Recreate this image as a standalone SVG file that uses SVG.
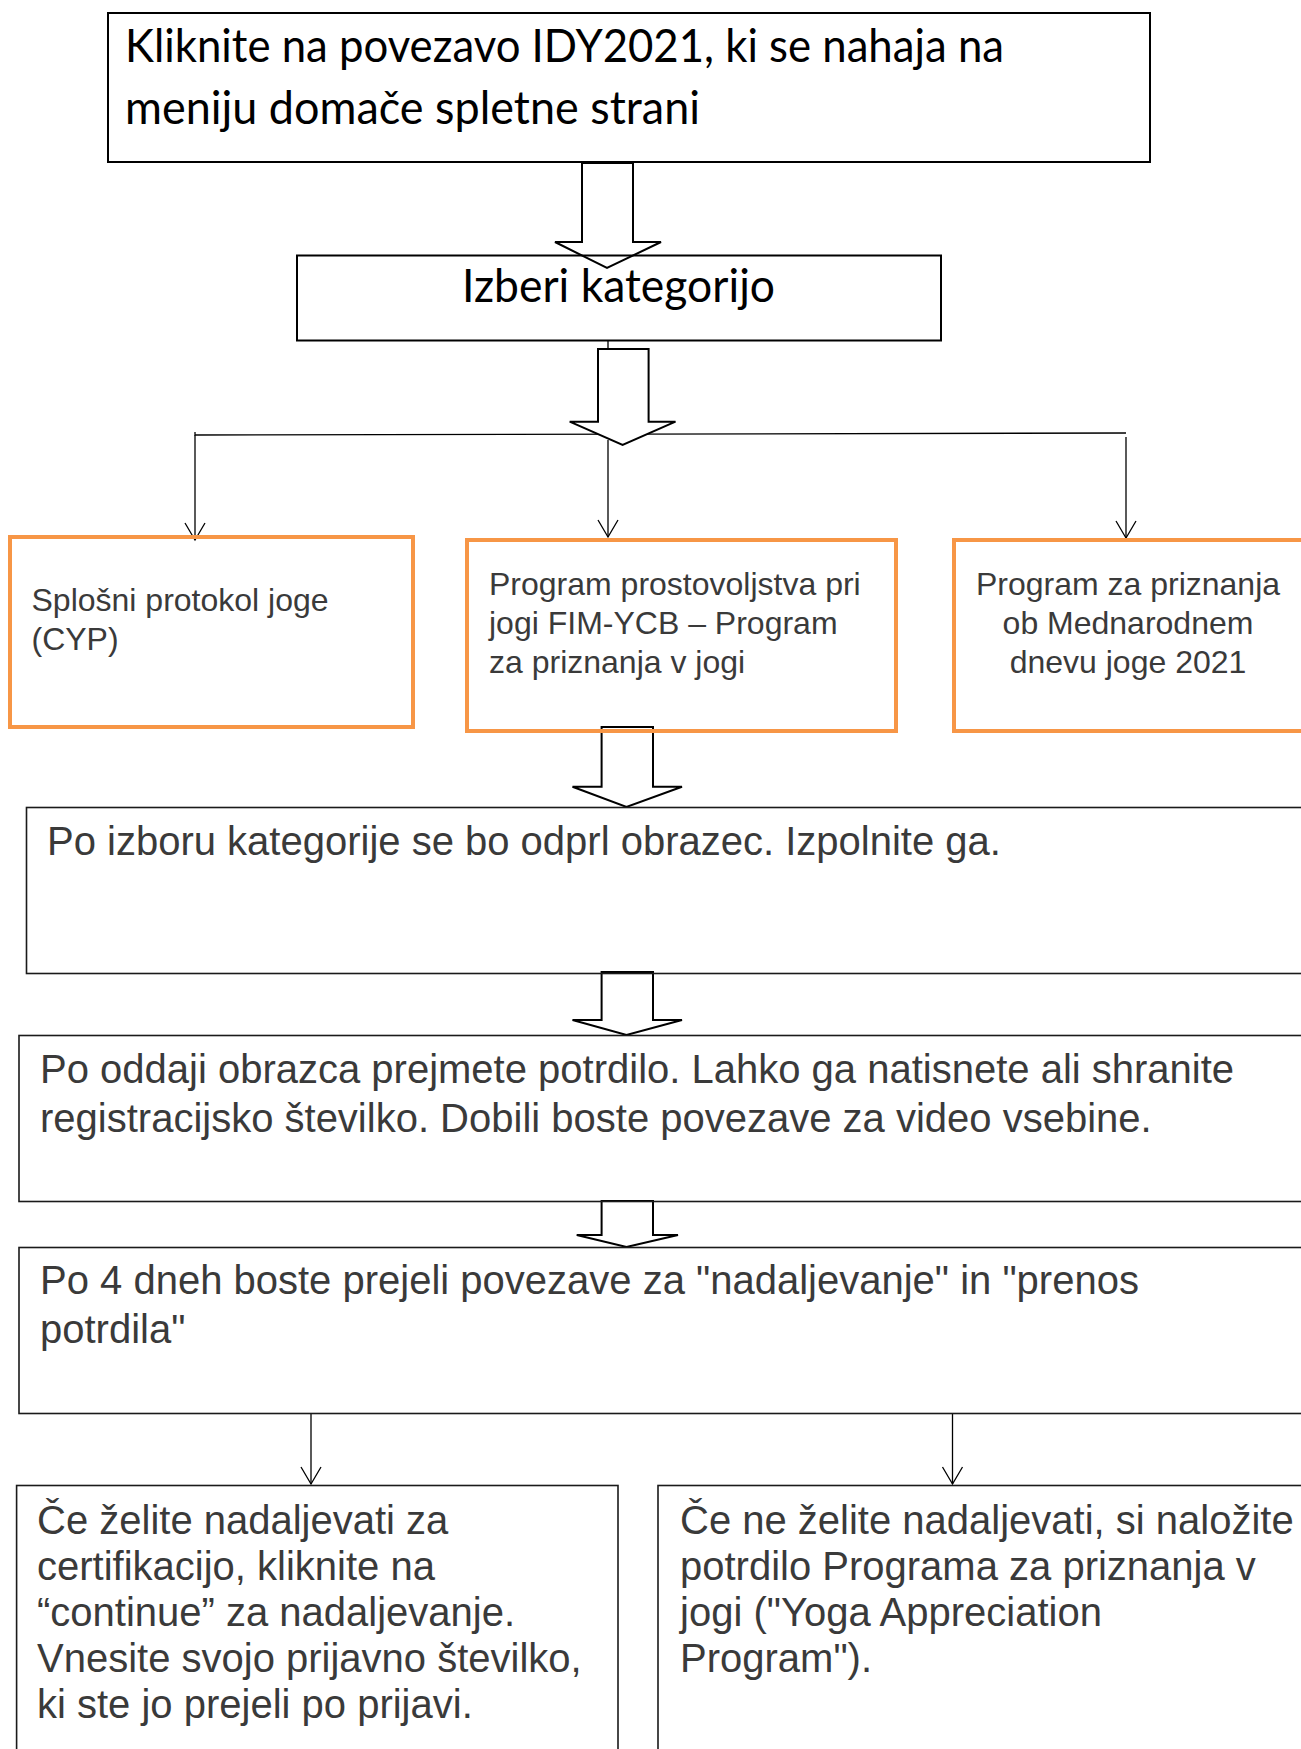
<svg xmlns="http://www.w3.org/2000/svg" width="1301" height="1749" viewBox="0 0 1301 1749">
<style>
.box{fill:none;stroke:#1a1a1a;stroke-width:1.6}
.box2{fill:none;stroke:#000;stroke-width:2}
.obox{fill:none;stroke:#F79646;stroke-width:4}
.blk{fill:#fff;stroke:#000;stroke-width:2;stroke-linejoin:miter}
.ln{fill:none;stroke:#000;stroke-width:1.3}
.cal{font-family:Lato,"Open Sans",sans-serif;fill:#000}
.ar{font-family:"Liberation Sans",Arial,sans-serif;fill:#3a3a3a}
</style>
<defs>
<marker id="v" markerUnits="userSpaceOnUse" markerWidth="22" markerHeight="24" refX="17" refY="10" orient="auto" overflow="visible">
<path d="M0,0 L17,10 L0,20" fill="none" stroke="#000" stroke-width="1.3"/>
</marker>
</defs>
<rect width="1301" height="1749" fill="#fff"/>

<g id="connectors">
<line class="ln" x1="608" y1="341" x2="608" y2="352"/>
<polyline class="ln" points="195,432 195,435 1126,433"/>
<line class="ln" x1="195" y1="435" x2="195" y2="540" marker-end="url(#v)"/>
<line class="ln" x1="608" y1="440" x2="608" y2="537" marker-end="url(#v)"/>
<line class="ln" x1="1126" y1="437" x2="1126" y2="538" marker-end="url(#v)"/>
<line class="ln" x1="311" y1="1414" x2="311" y2="1484" marker-end="url(#v)"/>
<line class="ln" x1="952.5" y1="1414" x2="952.5" y2="1484" marker-end="url(#v)"/>
<polygon class="blk" points="582,163 633,163 633,242 661,242 607,268 555,242 582,242"/>
<polygon class="blk" points="598,349 648.6,349 648.6,421.7 675.5,421.7 622.6,445 569.7,421.7 598,421.7"/>
<polygon class="blk" points="601.6,727 653,727 653,786.7 682,786.7 626.5,807 572.5,786.7 601.6,786.7"/>
<polygon class="blk" points="601.6,972 653,972 653,1020 682,1020 626.5,1035 572.5,1020 601.6,1020"/>
<polygon class="blk" points="601.6,1201 653,1201 653,1235 678,1235 626.5,1247 576.7,1235 601.6,1235"/>
</g>

<g id="n1">
<rect class="box2" x="108" y="13" width="1042" height="149"/>
<text class="cal" font-size="46" x="125" y="62" textLength="879" lengthAdjust="spacingAndGlyphs">Kliknite na povezavo IDY2021, ki se nahaja na</text>
<text class="cal" font-size="46" x="125" y="124" textLength="575" lengthAdjust="spacingAndGlyphs">meniju domače spletne strani</text>
</g>

<g id="n2">
<rect class="box2" x="297" y="255.5" width="644" height="85"/>
<text class="cal" font-size="47" x="462" y="302" textLength="313" lengthAdjust="spacingAndGlyphs">Izberi kategorijo</text>
</g>

<g id="n3a">
<rect class="obox" x="10" y="537" width="403" height="190"/>
<text class="ar" font-size="32" x="31.5" y="611">Splošni protokol joge</text>
<text class="ar" font-size="32" x="31.5" y="650">(CYP)</text>
</g>

<g id="n3b">
<rect class="obox" x="467" y="540" width="429" height="191"/>
<text class="ar" font-size="32" x="489" y="595">Program prostovoljstva pri</text>
<text class="ar" font-size="32" x="489" y="634">jogi FIM-YCB – Program</text>
<text class="ar" font-size="32" x="489" y="673">za priznanja v jogi</text>
</g>

<g id="n3c">
<rect class="obox" x="954" y="540" width="360" height="191"/>
<text class="ar" font-size="32" x="1128" y="595" text-anchor="middle">Program za priznanja</text>
<text class="ar" font-size="32" x="1128" y="634" text-anchor="middle">ob Mednarodnem</text>
<text class="ar" font-size="32" x="1128" y="673" text-anchor="middle">dnevu joge 2021</text>
</g>

<g id="n4">
<rect class="box" x="26.5" y="807.5" width="1290" height="166"/>
<text class="ar" font-size="40" x="47" y="855">Po izboru kategorije se bo odprl obrazec. Izpolnite ga.</text>
</g>

<g id="n5">
<rect class="box" x="19" y="1035.5" width="1300" height="166"/>
<text class="ar" font-size="40" x="40" y="1083">Po oddaji obrazca prejmete potrdilo. Lahko ga natisnete ali shranite</text>
<text class="ar" font-size="40" x="40" y="1132">registracijsko številko. Dobili boste povezave za video vsebine.</text>
</g>

<g id="n6">
<rect class="box" x="19" y="1247.5" width="1300" height="166"/>
<text class="ar" font-size="40" x="40" y="1294">Po 4 dneh boste prejeli povezave za "nadaljevanje" in "prenos</text>
<text class="ar" font-size="40" x="40" y="1343">potrdila"</text>
</g>

<g id="n7">
<rect class="box" x="16.6" y="1485.5" width="601.4" height="300"/>
<text class="ar" font-size="40" x="37" y="1534">Če želite nadaljevati za</text>
<text class="ar" font-size="40" x="37" y="1580">certifikacijo, kliknite na</text>
<text class="ar" font-size="40" x="37" y="1626">“continue” za nadaljevanje.</text>
<text class="ar" font-size="40" x="37" y="1672">Vnesite svojo prijavno številko,</text>
<text class="ar" font-size="40" x="37" y="1718">ki ste jo prejeli po prijavi.</text>
</g>

<g id="n8">
<rect class="box" x="658" y="1485.5" width="700" height="300"/>
<text class="ar" font-size="40" x="680" y="1534">Če ne želite nadaljevati, si naložite</text>
<text class="ar" font-size="40" x="680" y="1580">potrdilo Programa za priznanja v</text>
<text class="ar" font-size="40" x="680" y="1626">jogi ("Yoga Appreciation</text>
<text class="ar" font-size="40" x="680" y="1672">Program").</text>
</g>
</svg>
